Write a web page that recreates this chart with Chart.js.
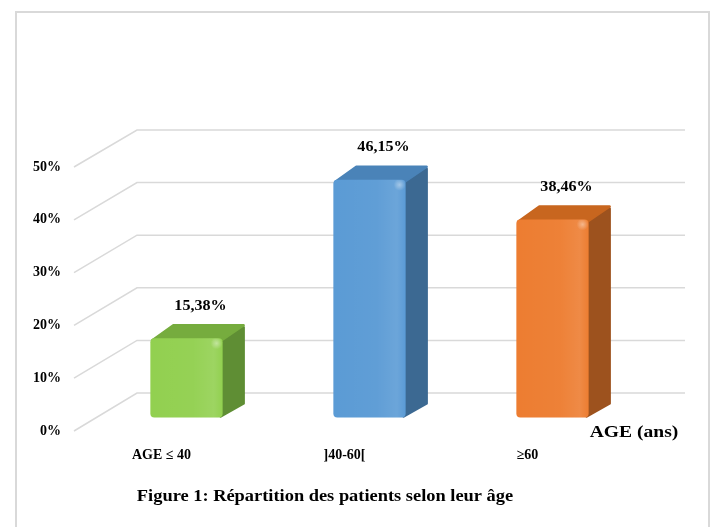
<!DOCTYPE html>
<html>
<head>
<meta charset="utf-8">
<script src="https://cdn.jsdelivr.net/npm/chart.js@4.4.1/dist/chart.umd.min.js"></script>
<style>
  html, body { margin: 0; padding: 0; background: #ffffff; }
  canvas { display: block; }
</style>
</head>
<body>
<canvas id="chart" width="712" height="527"></canvas>
<script>
// Age groups and share of patients (%)
const categories = ['AGE ≤ 40', ']40-60[', '≥60'];
const percentages = [15.38, 46.15, 38.46];
const tickValues = [0, 10, 20, 30, 40, 50];

// Bar palette: front face, top face, side face
const faceColors = ['#92d050', '#5b9bd5', '#ed7d31'];
const topColors = ['#76ac3e', '#4a83b8', '#c8661f'];
const sideColors = ['#5f8e34', '#3c6992', '#9d521e'];

// Plot geometry (pixels)
const AREA = { left: 95, right: 644, top: 167, bottom: 431 };
const Y_AXIS_WIDTH = 95;
const X_AXIS_HEIGHT = 40;
const FLOOR_FRONT_X = 74;   // where the slanted floor lines meet the value labels
const WALL_LEFT_X = 137;    // left edge of the back wall
const WALL_RIGHT_X = 685;   // right edge of the back wall
const DEPTH_X = 21;         // bar depth, horizontal
const DEPTH_Y = 14;         // bar depth, vertical
const BAR_BASE_PX = 417.5, BAR_PX_PER_UNIT = 5.15;
const WALL_BASE_PX = 393, WALL_PX_PER_UNIT = 5.26;
const TEXT_STRETCH = 1.15;  // wide serif captions

function rangeFor(basePx, pxPerUnit) {
  return {
    min: -(AREA.bottom - basePx) / pxPerUnit,
    max: (basePx - AREA.top) / pxPerUnit
  };
}
const barRange = rangeFor(BAR_BASE_PX, BAR_PX_PER_UNIT);
const wallRange = rangeFor(WALL_BASE_PX, WALL_PX_PER_UNIT);

const SERIF = '"Liberation Serif", "Times New Roman", serif';
const pct = v => v.toFixed(2).replace('.', ',') + '%';

function polygon(ctx, pts, fill) {
  ctx.beginPath();
  ctx.moveTo(pts[0][0], pts[0][1]);
  for (let i = 1; i < pts.length; i++) ctx.lineTo(pts[i][0], pts[i][1]);
  ctx.closePath();
  ctx.fillStyle = fill;
  ctx.strokeStyle = fill;
  ctx.lineJoin = 'round';
  ctx.lineWidth = 2.5;
  ctx.stroke();
  ctx.fill();
}

// centred text, widened horizontally
function wideText(ctx, text, x, y, font) {
  ctx.save();
  ctx.translate(x, y);
  ctx.scale(TEXT_STRETCH, 1);
  ctx.font = font;
  ctx.fillStyle = '#000000';
  ctx.textAlign = 'center';
  ctx.textBaseline = 'middle';
  ctx.fillText(text, 0, 0);
  ctx.restore();
}

const perspective3d = {
  id: 'perspective3d',
  beforeDatasetsDraw(chart) {
    const ctx = chart.ctx;
    const front = chart.scales.y;
    const wall = chart.scales.yBack;
    ctx.save();
    // floor-to-wall gridlines
    ctx.strokeStyle = '#d9d9d9';
    ctx.lineWidth = 1.5;
    tickValues.forEach(v => {
      const yf = front.getPixelForValue(v);
      const yw = wall.getPixelForValue(v);
      ctx.beginPath();
      ctx.moveTo(FLOOR_FRONT_X, yf);
      ctx.lineTo(WALL_LEFT_X, yw);
      ctx.lineTo(WALL_RIGHT_X, yw);
      ctx.stroke();
    });
    // side and top faces of each bar
    chart.getDatasetMeta(0).data.forEach((bar, i) => {
      const { x, y, base, width } = bar.getProps(['x', 'y', 'base', 'width'], true);
      const xl = x - width / 2, xr = x + width / 2;
      polygon(ctx, [[xr - 2, base - 1], [xr + DEPTH_X, base - DEPTH_Y], [xr + DEPTH_X, y - DEPTH_Y + 3], [xr - 2, y + 3]], sideColors[i]);
      polygon(ctx, [[xl + 2, y + 2], [xr - 1, y + 2], [xr + DEPTH_X, y - DEPTH_Y + 1], [xl + DEPTH_X + 2, y - DEPTH_Y + 1]], topColors[i]);
    });
    ctx.restore();
  },
  afterDatasetsDraw(chart) {
    const ctx = chart.ctx;
    ctx.save();
    chart.getDatasetMeta(0).data.forEach((bar, i) => {
      const { x, y, base, width } = bar.getProps(['x', 'y', 'base', 'width'], true);
      const xl = x - width / 2, xr = x + width / 2;
      // soft sheen across the front face
      const g = ctx.createLinearGradient(xl, 0, xr, 0);
      g.addColorStop(0, 'rgba(255,255,255,0)');
      g.addColorStop(0.6, 'rgba(255,255,255,0.03)');
      g.addColorStop(0.88, 'rgba(255,255,255,0.1)');
      g.addColorStop(1, 'rgba(255,255,255,0)');
      ctx.fillStyle = g;
      ctx.beginPath();
      ctx.roundRect(xl, y, width, base - y, 4);
      ctx.fill();
      // small glint at the upper right corner
      const r = ctx.createRadialGradient(xr - 6, y + 5, 0, xr - 6, y + 5, 6);
      r.addColorStop(0, 'rgba(255,255,255,0.4)');
      r.addColorStop(1, 'rgba(255,255,255,0)');
      ctx.fillStyle = r;
      ctx.fillRect(xr - 13, y, 13, 11);
      // value label
      wideText(ctx, pct(percentages[i]), x + 14, y - 32, 'bold 14px ' + SERIF);
    });
    ctx.restore();
  },
  afterDraw(chart) {
    const ctx = chart.ctx;
    ctx.save();
    // outer frame
    ctx.strokeStyle = '#d9d9d9';
    ctx.lineWidth = 2;
    ctx.beginPath();
    ctx.moveTo(16, 527);
    ctx.lineTo(16, 12);
    ctx.lineTo(709, 12);
    ctx.lineTo(709, 527);
    ctx.stroke();
    ctx.restore();
    // axis caption
    wideText(ctx, 'AGE (ans)', 634, 433, 'bold 17px ' + SERIF);
    // figure caption
    wideText(ctx, 'Figure 1: Répartition des patients selon leur âge', 325, 497, 'bold 16px ' + SERIF);
  }
};

new Chart(document.getElementById('chart'), {
  type: 'bar',
  data: {
    labels: categories,
    datasets: [{
      data: percentages,
      yAxisID: 'yBar',
      backgroundColor: faceColors,
      borderWidth: 0,
      borderRadius: 4,
      borderSkipped: false,
      barPercentage: 0.395,
      categoryPercentage: 1.0
    }]
  },
  options: {
    responsive: false,
    animation: false,
    layout: {
      padding: {
        left: AREA.left - Y_AXIS_WIDTH,
        right: 712 - AREA.right,
        top: AREA.top,
        bottom: 527 - AREA.bottom - X_AXIS_HEIGHT
      }
    },
    plugins: {
      legend: { display: false },
      tooltip: { enabled: false },
      title: { display: false }
    },
    scales: {
      x: {
        offset: true,
        grid: { display: false },
        border: { display: false },
        ticks: {
          color: '#000000',
          font: { family: SERIF, weight: 'bold', size: 14 },
          labelOffset: -25,
          padding: 8,
          maxRotation: 0
        },
        afterFit(scale) { scale.height = X_AXIS_HEIGHT; }
      },
      y: {
        position: 'left',
        min: 0,
        max: 50,
        grid: { display: false },
        border: { display: false },
        ticks: {
          color: '#000000',
          font: { family: SERIF, weight: 'bold', size: 14 },
          padding: 26,
          callback: v => v + '%'
        },
        afterBuildTicks(scale) { scale.ticks = tickValues.map(v => ({ value: v })); },
        afterFit(scale) { scale.width = Y_AXIS_WIDTH; }
      },
      yBar: {
        display: false,
        position: 'left',
        min: barRange.min,
        max: barRange.max
      },
      yBack: {
        display: false,
        position: 'left',
        min: wallRange.min,
        max: wallRange.max
      }
    }
  },
  plugins: [perspective3d]
});
</script>
</body>
</html>
